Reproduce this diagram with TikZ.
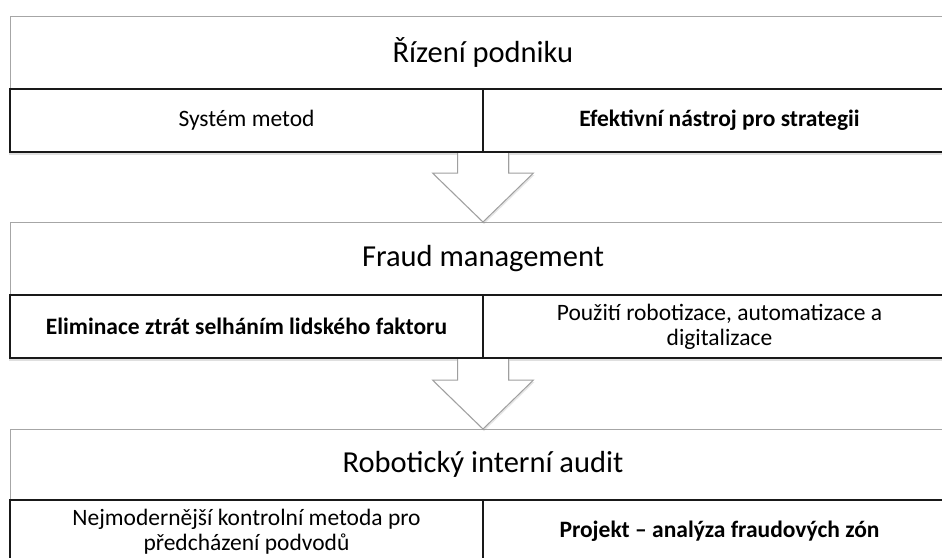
\documentclass[tikz,border=0pt]{standalone}
\usepackage{fontspec}
\setmainfont{Carlito}
\usetikzlibrary{positioning, calc, shadows}

\begin{document}
\begin{tikzpicture}[x=1pt, y=-1pt,
  title/.style = {draw=gray!70, line width=1pt, fill=white, outer sep=0pt,
    minimum width=946pt, minimum height=73pt, inner sep=0pt,
    font=\fontsize{30.5}{36}\selectfont, anchor=north west},
  cell/.style = {draw=black!90, line width=1.5pt, fill=white, outer sep=0pt,
    minimum width=473pt, minimum height=63pt, inner sep=0pt, align=center,
    font=\fontsize{23.5}{25}\selectfont,
    drop shadow={shadow xshift=-1pt, shadow yshift=-2.5pt, opacity=.25}},
  blockarrow/.style = {draw=gray!75, line width=1pt, fill=white,
    drop shadow={shadow xshift=1pt, shadow yshift=-2pt, opacity=.2}}]
\clip (0,0) rectangle (942,557);

% first box
\node[title] (rid) at (10,16) {Řízení podniku};
\node[cell, anchor=north west] (sys) at (rid.south west) {Systém metod};
\node[cell, right=0pt of sys] (efe) {\bfseries Efektivní nástroj pro strategii};

% second box
\node[title, below=70pt of sys.south west, anchor=north west] (fm) {Fraud management};
\node[cell, anchor=north west] (eli) at (fm.south west) {\bfseries Eliminace ztrát selháním lidského faktoru};
\node[cell, right=0pt of eli] (pou) {Použití robotizace, automatizace a\\digitalizace};

% third box
\node[title, below=71pt of eli.south west, anchor=north west, minimum height=71pt] (ria) {Robotický interní audit};
\node[cell, anchor=north west] (nej) at (ria.south west) {Nejmodernější kontrolní metoda pro\\předcházení podvodů};
\node[cell, right=0pt of nej] (pro) {\bfseries Projekt – analýza fraudových zón};

% arrows between boxes
\draw[blockarrow] ($(sys.south east)+(-25.5,1)$) -- ++(0,20) -- ++(-25,0) -- (fm.north)
  -- ($(sys.south east)+(50.5,21)$) -- ++(-25,0) -- ++(0,-20);
\draw[blockarrow] ($(eli.south east)+(-25.5,1)$) -- ++(0,21) -- ++(-25,0) -- (ria.north)
  -- ($(eli.south east)+(50.5,22)$) -- ++(-25,0) -- ++(0,-21);
\end{tikzpicture}
\end{document}
